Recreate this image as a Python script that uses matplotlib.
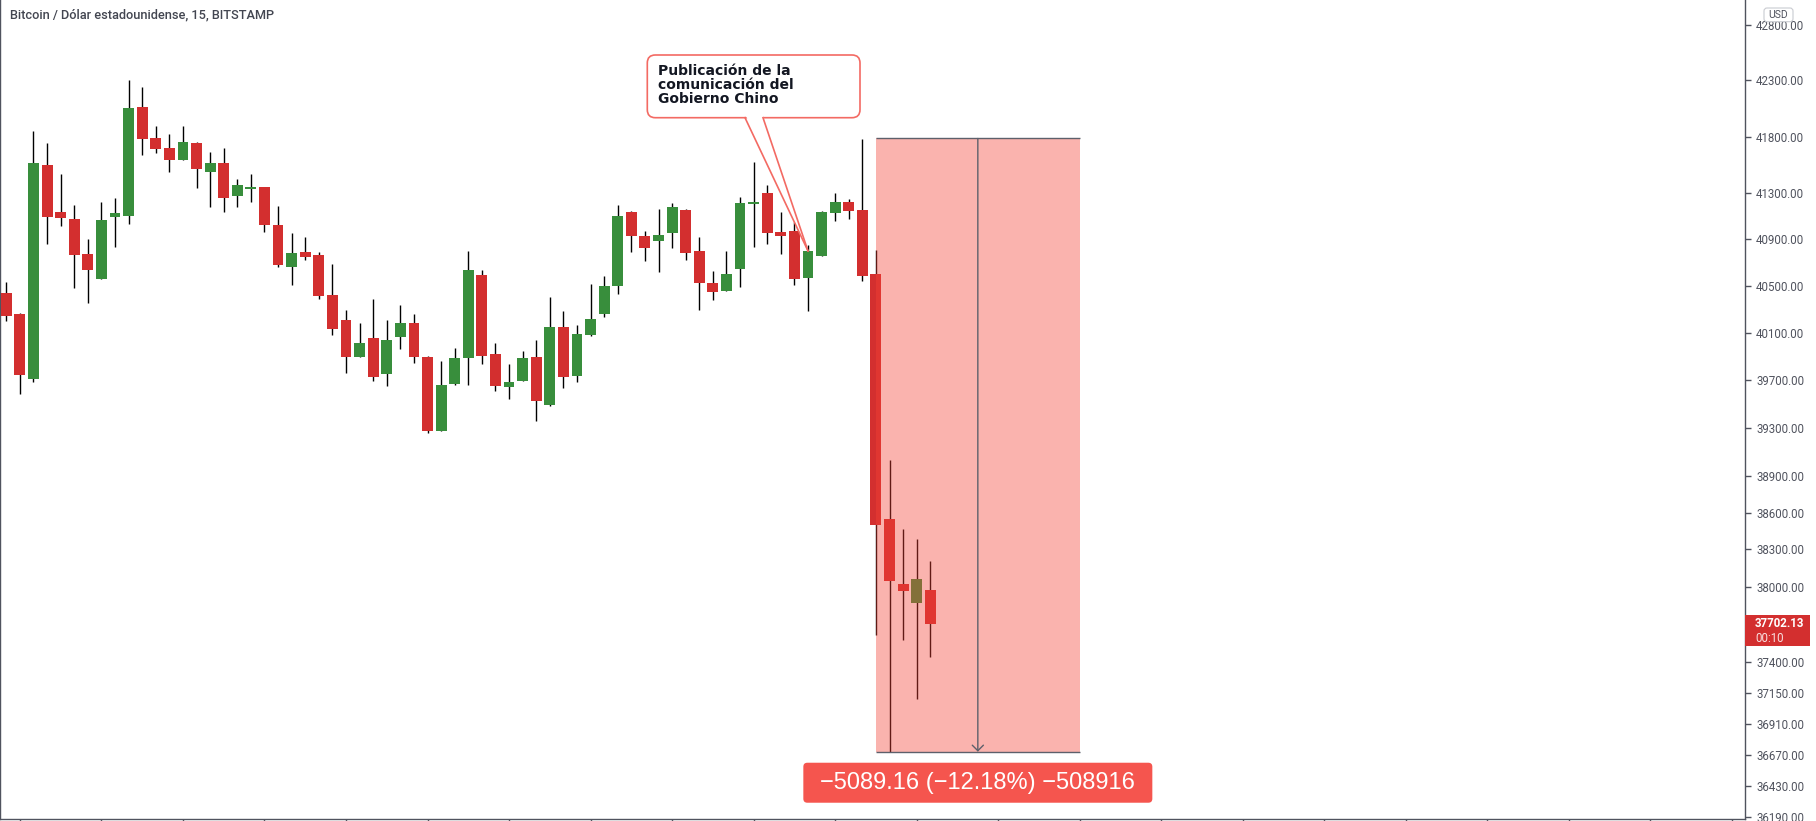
import numpy as np
import matplotlib
matplotlib.use("Agg")
from matplotlib import pyplot as plt
from matplotlib.patches import FancyBboxPatch, Polygon, Rectangle
from matplotlib.lines import Line2D
from matplotlib.ticker import NullLocator, NullFormatter
from matplotlib.transforms import IdentityTransform

plt.rcParams['font.family'] = ['Roboto', 'DejaVu Sans']

# 15 min BTC/USD candles
opens = [40440, 40262, 39711, 41549, 41138, 41077, 40773, 40561, 41097, 41106,
         42063, 41788, 41699, 41596, 41743, 41491, 41567, 41280, 41339, 41356,
         41025, 40664, 40791, 40765, 40421, 40207, 39896, 40054, 39753, 40066,
         40182, 39893, 39275, 39669, 39888, 40592, 39919, 39643, 39694, 39893,
         39492, 40148, 39736, 40083, 40261, 40500, 41140, 40930, 40889, 40957,
         41155, 40800, 40524, 40458, 40647, 41211, 41304, 40964, 40972, 40569,
         40759, 41132, 41225, 41155, 40601, 38548, 38021, 37870, 37972]
highs = [40530, 40270, 41850, 41743, 41470, 41199, 40903, 41225, 41260, 42300,
         42241, 41894, 41823, 41894, 41752, 41664, 41699, 41429, 41470, 41360,
         41190, 40955, 40921, 40791, 40687, 40292, 40182, 40387, 40207, 40335,
         40258, 39900, 39860, 39970, 40800, 40635, 40015, 39837, 39947, 40040,
         40406, 40286, 40167, 40518, 40587, 41201, 41145, 40975, 41167, 41219,
         41160, 40924, 40627, 40800, 41269, 41576, 41374, 41138, 41053, 40851,
         41147, 41304, 41251, 41779, 40808, 39033, 38466, 38385, 38206]
lows = [40195, 39586, 39685, 40863, 41019, 40483, 40355, 40561, 40837, 41036,
        41640, 41658, 41491, 41590, 41350, 41184, 41140, 41184, 41228, 40966,
        40664, 40509, 40724, 40390, 40083, 39761, 39890, 39694, 39652, 39964,
        39846, 39259, 39270, 39660, 39660, 39837, 39610, 39543, 39690, 39358,
        39484, 39635, 39685, 40075, 40236, 40432, 40793, 40716, 40621, 40828,
        40724, 40295, 40381, 40455, 40492, 40837, 40863, 40776, 40509, 40286,
        40755, 41062, 41079, 40544, 37612, 36694, 37575, 37108, 37440]
closes = [40245, 39745, 41567, 41097, 41088, 40767, 40638, 41068, 41129, 42054,
          41782, 41693, 41596, 41752, 41517, 41567, 41263, 41374, 41356, 41027,
          40681, 40782, 40750, 40415, 40134, 39896, 40012, 39727, 40038, 40182,
          39896, 39275, 39658, 39885, 40635, 39905, 39652, 39683, 39885, 39526,
          40148, 39727, 40091, 40219, 40500, 41106, 40932, 40828, 40938, 41181,
          40785, 40528, 40449, 40601, 41216, 41225, 40957, 40932, 40561, 40800,
          41138, 41225, 41149, 40587, 38501, 38048, 37967, 38061, 37702.13]

price_ticks = [42800, 42300, 41800, 41300, 40900, 40500, 40100, 39700, 39300,
               38900, 38600, 38300, 38000, 37400, 37150, 36910, 36670, 36430, 36190]

title = "Bitcoin / Dólar estadounidense, 15, BITSTAMP"
callout_text = "Publicación de la\ncomunicación del\nGobierno Chino"
callout_bar = 59
measure_start, measure_end = 64, 79
measure_top = 41783.29
measure_change = -5089.16
bar_timer = "00:10"

up_col = "#388e3c"
down_col = "#d32f2f"
axis_col = "#50535e"

fig = plt.figure(figsize=(18.16, 8.21), dpi=100)
ax = fig.add_axes([0, 2 / 821, 1745 / 1816, 819 / 821])

o = np.array(opens); h = np.array(highs); l = np.array(lows); c = np.array(closes)
x = np.arange(len(o))
cols = np.where(c >= o, up_col, down_col)
ax.vlines(x, l, h, color="black", lw=1.0, zorder=2)
ax.bar(x, c - o, bottom=o, width=0.8, color=cols, zorder=3)

ax.set_yscale("log")
ax.set_ylim(36175, 43027)
ax.set_xlim(-0.464, 127.96)

# price scale on the right
ax.yaxis.tick_right()
ax.set_yticks(price_ticks)
ax.set_yticklabels([f"{v:.2f}" for v in price_ticks])
ax.yaxis.set_minor_locator(NullLocator())
ax.yaxis.set_minor_formatter(NullFormatter())
ax.tick_params(axis="y", direction="out", length=4, width=1, color=axis_col,
               labelcolor=axis_col, labelsize=8.3, pad=4)
ax.set_xticks(np.arange(1, 128, 6))
ax.set_xticklabels([])
ax.tick_params(axis="x", direction="out", length=4, width=1, color=axis_col)
ax.spines["top"].set_visible(False)
for s in ["left", "right", "bottom"]:
    ax.spines[s].set_color(axis_col)
    ax.spines[s].set_linewidth(1.0)

# measure tool
measure_bottom = measure_top + measure_change
mid = (measure_start + measure_end) / 2
ax.add_patch(Rectangle((measure_start, measure_bottom), measure_end - measure_start,
                       measure_top - measure_bottom, fc="#f44336", alpha=0.4, lw=0, zorder=4))
ax.hlines([measure_top, measure_bottom], measure_start, measure_end, color="#5d606b", lw=1, zorder=5)
ax.annotate("", xy=(mid, measure_bottom), xytext=(mid, measure_top),
            arrowprops=dict(arrowstyle="->,head_length=0.4,head_width=0.4", color="#5d606b",
                            lw=1, shrinkA=0, shrinkB=0), zorder=5)

pct = measure_change / measure_top * 100
mlabel = f"{measure_change:.2f} ({pct:.2f}%) {measure_change * 100:.0f}".replace("-", "\u2212")
px = ax.transData.transform((mid, measure_bottom))
cx, cy = px[0], px[1] - 31
fig.add_artist(FancyBboxPatch((cx - 174.5, cy - 20), 349, 40, boxstyle="round,pad=0,rounding_size=4",
                              fc="#f5554e", ec="none", transform=IdentityTransform()))
fig.text(cx, cy, mlabel, transform=IdentityTransform(), ha="center", va="center",
         color="white", fontsize=17, family="Liberation Sans")

# callout
tip = ax.transData.transform((callout_bar, closes[callout_bar]))
bx0, by0, bx1, by1 = 647.3, 703.3, 860, 766
edge = "#f36a63"
fig.add_artist(FancyBboxPatch((bx0, by0), bx1 - bx0, by1 - by0, boxstyle="round,pad=0,rounding_size=8",
                              fc="white", ec=edge, lw=1.2, transform=IdentityTransform()))
fig.add_artist(Polygon([(745.5, 706), (762.5, 706), (tip[0], tip[1])], closed=True, fc="white",
                       ec="none", transform=IdentityTransform()))
fig.add_artist(Line2D([745, tip[0]], [703.3, tip[1]], color=edge, lw=1.2, transform=IdentityTransform()))
fig.add_artist(Line2D([763, tip[0]], [703.3, tip[1]], color=edge, lw=1.2, transform=IdentityTransform()))
fig.text(658, 757, callout_text, transform=IdentityTransform(), ha="left", va="top",
         fontsize=10, fontweight="bold", family="DejaVu Sans", color="#131722", linespacing=1.0)

# last price label
py = ax.transData.transform((0, closes[-1]))[1]
fig.add_artist(Rectangle((1745, py - 22.3), 65, 31, fc=down_col, ec="none", transform=IdentityTransform()))
fig.text(1755, py, f"{closes[-1]:.2f}", transform=IdentityTransform(), ha="left", va="center",
         color="white", fontsize=8.3, fontweight="bold")
fig.text(1755, py - 14.7, bar_timer, transform=IdentityTransform(), ha="left", va="center",
         color="white", alpha=0.85, fontsize=8.3)

# currency badge
fig.add_artist(FancyBboxPatch((1764, 799.3), 29, 13.7, boxstyle="round,pad=0,rounding_size=3",
                              fc="white", ec="#c9cbd1", lw=0.8, transform=IdentityTransform()))
fig.text(1778.5, 806, "USD", transform=IdentityTransform(), ha="center", va="center",
         color=axis_col, fontsize=7.5)

fig.text(10, 806, title, transform=IdentityTransform(), ha="left", va="center",
         color="#434651", fontsize=9.2, fontweight="medium")

fig.savefig("out.png", dpi=100)
